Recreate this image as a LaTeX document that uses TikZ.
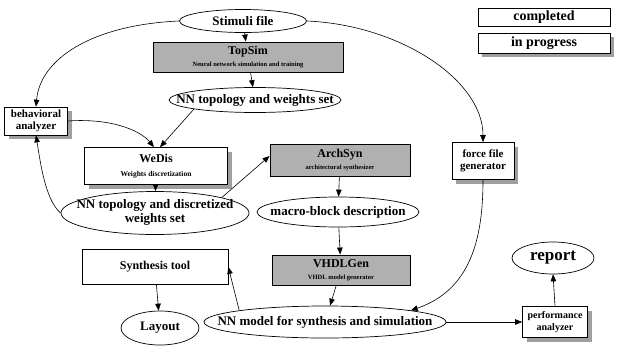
\documentclass[tikz,border=0pt]{standalone}
\usepackage{fontspec}
\setmainfont{Liberation Serif}
\usetikzlibrary{shapes.geometric,arrows.meta}
\newcommand\zw[1]{\makebox[0pt]{#1}}
\newcommand\zwtwo[2]{\makebox[0pt]{\begin{tabular}{@{}c@{}}#1\\#2\end{tabular}}}
\begin{document}
\begin{tikzpicture}[x=1pt,y=-1pt,
  every node/.style={font=\bfseries\fontsize{13}{14}\selectfont, inner sep=0pt, align=center},
  oval/.style={draw, ellipse, line width=0.7pt, fill=white},
  plainbox/.style={draw, rectangle, line width=0.7pt, fill=white},
  smalltxt/.style={font=\bfseries\fontsize{11}{12.5}\selectfont},
  darkbox/.style={draw, rectangle, line width=0.9pt, fill=gray!62},
  shadowbox/.style={rectangle, fill=gray!75, draw=none},
  conn/.style={line width=0.6pt, -{Triangle[length=7pt,width=5.5pt]}}
]
\useasboundingbox (0,0) rectangle (617,351);

% shadows of the boxes "in progress" (drawn first, boxes cover them)
\node[shadowbox, minimum width=132, minimum height=20] (progS) at (548,47) {};
\node[shadowbox, minimum width=63, minimum height=28] (behavS) at (40,125) {};
\node[shadowbox, minimum width=143, minimum height=37] (wedisS) at (160,170) {};
\node[shadowbox, minimum width=62, minimum height=37] (forceS) at (487,165) {};
\node[shadowbox, minimum width=65, minimum height=31] (perfS) at (559,326) {};

% legend
\node[plainbox, minimum width=132, minimum height=18, font=\bfseries\fontsize{14}{15}\selectfont] (comp) at (544,17) {completed};
\node[plainbox, minimum width=132, minimum height=20, font=\bfseries\fontsize{14}{15}\selectfont] (prog) at (544,43) {in progress};

% nodes
\node[oval, minimum width=127, minimum height=23] (stim) at (243,21) {\zw{Stimuli file}};
\node[darkbox, minimum width=190, minimum height=30] (topsim) at (248,57) {{\fontsize{12}{13}\selectfont TopSim}\\[-2pt]{\fontsize{6.5}{7}\selectfont Neural network simulation and training}};
\node[oval, minimum width=172, minimum height=25] (nnset) at (255,100) {\zw{NN topology and weights set}};
\node[plainbox, smalltxt, minimum width=63, minimum height=28] (behav) at (36,121) {behavioral\\analyzer};
\node[plainbox, minimum width=143, minimum height=37] (wedis) at (156,166) {{\fontsize{12}{13}\selectfont WeDis}\\{\fontsize{7.5}{8}\selectfont Weights discretization}};
\node[darkbox, minimum width=140, minimum height=32] (archsyn) at (340,160) {{\fontsize{12}{13}\selectfont ArchSyn}\\[-2pt]{\fontsize{6.5}{7}\selectfont architectural synthesizer}};
\node[plainbox, smalltxt, minimum width=62, minimum height=37] (force) at (483,161) {force file\\generator};
\node[oval, minimum width=188, minimum height=43] (disc) at (155,213) {\zwtwo{NN topology and discretized}{weights set}};
\node[oval, minimum width=162, minimum height=30] (macro) at (338,212) {\zw{macro-block description}};
\node[darkbox, minimum width=138, minimum height=30] (vhdl) at (341,270) {{\fontsize{12}{13}\selectfont VHDLGen}\\[-2pt]{\fontsize{6.5}{7}\selectfont VHDL model generator}};
\node[plainbox, minimum width=146, minimum height=35, font=\bfseries\fontsize{12}{13}\selectfont] (synth) at (155,267) {Synthesis tool};
\node[oval, minimum width=82, minimum height=32, font=\bfseries\fontsize{17}{18}\selectfont] (report) at (553,258) {\zw{report}};
\node[oval, minimum width=78, minimum height=34] (layout) at (160,328) {\zw{Layout}};
\node[oval, minimum width=242, minimum height=32] (nnmodel) at (325,322) {\zw{NN model for synthesis and simulation}};
\node[plainbox, minimum width=65, minimum height=31, font=\bfseries\fontsize{10}{11.5}\selectfont] (perf) at (555,322) {performance\\analyzer};

% connectors
\draw[conn] (stim.west) .. controls (90,25) and (40,60) .. (behav.north);
\draw[conn] (stim.east) .. controls (400,25) and (483,80) .. (force.north);
\draw[conn] (stim) -- (topsim);
\draw[conn] (topsim) -- (nnset);
\draw[conn] (nnset.south west) -- ([xshift=4pt]wedis.north);
\draw[conn] (behav.east) .. controls (110,118) and (140,130) .. ([xshift=-2pt]wedis.north);
\draw[conn] (wedis) -- (disc);
\draw[conn] (disc.west) .. controls (45,200) and (40,160) .. (behav.south);
\draw[conn] (disc.north east) -- ([yshift=4pt]archsyn.west);
\draw[conn] (archsyn) -- (macro);
\draw[conn] (macro) -- (vhdl);
\draw[conn] (vhdl) -- (nnmodel);
\draw[conn] (nnmodel.north west) -- (synth.east);
\draw[conn] (synth) -- (layout);
\draw[conn] (force.south) .. controls (483,240) and (470,290) .. (nnmodel.north east);
\draw[conn] (nnmodel.east) -- (perf.west);
\draw[conn] (perf.north) -- (report.south);
\end{tikzpicture}
\end{document}
